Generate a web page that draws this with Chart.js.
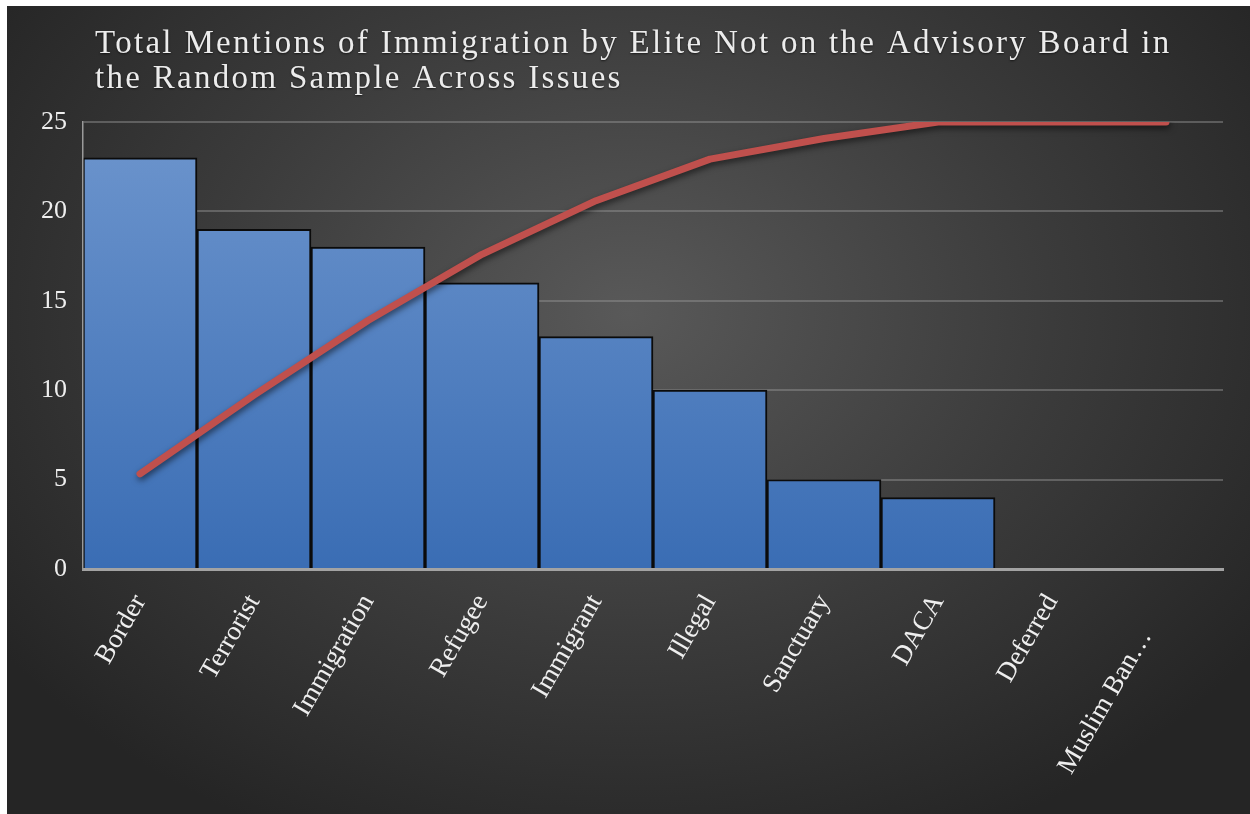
<!DOCTYPE html>
<html>
<head>
<meta charset="utf-8">
<script src="https://cdn.jsdelivr.net/npm/chart.js@4.4.1/dist/chart.umd.min.js"></script>
<style>
  html, body { margin: 0; padding: 0; background: #fff; }
  #wrap {
    position: absolute; left: 7px; top: 6px; width: 1243px; height: 808px;
    background: radial-gradient(ellipse 62% 72% at 50% 38%, #595959 0%, #3b3b3b 55%, #252525 100%);
  }
  #wrap canvas { display: block; }
</style>
</head>
<body>
<div id="wrap"><canvas id="paretoChart" width="1243" height="808"></canvas></div>
<script>
// issue categories and mention counts
const categories = ['Border', 'Terrorist', 'Immigration', 'Refugee', 'Immigrant', 'Illegal', 'Sanctuary', 'DACA', 'Deferred', 'Muslim Ban…'];
const mentions = [23, 19, 18, 16, 13, 10, 5, 4, 0, 0];
// running share of all mentions, in percent
const cumulativePct = [21.3, 38.9, 55.6, 70.4, 82.4, 91.7, 96.3, 100, 100, 100];
const titleLines = ['Total Mentions of Immigration by Elite Not on the Advisory Board in', 'the Random Sample Across Issues'];
const yMax = 25;
const yStep = 5;

const serif = "'Liberation Serif', 'Times New Roman', serif";

// title drawn by hand so it can be letter-spaced
const titlePlugin = {
    id: 'spacedTitle',
    afterDraw(chart) {
        const ctx = chart.ctx;
        ctx.save();
        ctx.font = '33px ' + serif;
        ctx.letterSpacing = '2.3px';
        ctx.fillStyle = '#ececec';
        ctx.textBaseline = 'alphabetic';
        ctx.shadowColor = 'rgba(0,0,0,0.6)';
        ctx.shadowBlur = 2;
        ctx.shadowOffsetY = 1;
        titleLines.forEach((line, i) => {
            ctx.fillText(line, 88, 47 + i * 35);
        });
        ctx.restore();
    }
};

// soft drop shadow under the cumulative line
const lineShadow = {
    id: 'lineShadow',
    beforeDatasetDraw(chart, args) {
        if (args.meta.type !== 'line') return;
        const ctx = chart.ctx;
        ctx.save();
        ctx.shadowColor = 'rgba(0,0,0,0.55)';
        ctx.shadowBlur = 6;
        ctx.shadowOffsetX = 1;
        ctx.shadowOffsetY = 3;
    },
    afterDatasetDraw(chart, args) {
        if (args.meta.type !== 'line') return;
        chart.ctx.restore();
    }
};

const ctx = document.getElementById('paretoChart').getContext('2d');

new Chart(ctx, {
    type: 'bar',
    data: {
        labels: categories,
        datasets: [
            {
                type: 'line',
                label: 'Cumulative %',
                data: cumulativePct,
                yAxisID: 'y1',
                borderColor: '#c0504d',
                borderWidth: 7,
                borderCapStyle: 'round',
                borderJoinStyle: 'round',
                pointRadius: 0,
                tension: 0,
                order: 0
            },
            {
                label: 'Mentions',
                data: mentions,
                yAxisID: 'y',
                backgroundColor: (c) => {
                    const area = c.chart.chartArea;
                    if (!area) return '#4a7ebf';
                    const g = c.chart.ctx.createLinearGradient(0, area.top, 0, area.bottom);
                    g.addColorStop(0, '#6d95cd');
                    g.addColorStop(1, '#3a6db4');
                    return g;
                },
                borderColor: '#0b0b0b',
                borderWidth: 2,
                borderSkipped: 'bottom',
                categoryPercentage: 1,
                barPercentage: 1,
                order: 1
            }
        ]
    },
    options: {
        responsive: false,
        animation: false,
        layout: { padding: { top: 116, right: 27, left: 0, bottom: 0 } },
        plugins: {
            legend: { display: false },
            title: { display: false },
            tooltip: { enabled: false }
        },
        scales: {
            x: {
                grid: { display: false },
                border: { display: true, color: '#a3a3a3', width: 3, z: 1 },
                ticks: {
                    color: '#eeeeee',
                    font: { family: serif, size: 27 },
                    minRotation: 60,
                    maxRotation: 60,
                    padding: 12,
                    autoSkip: false,
                    // the truncated last label sits a little lower along its slant
                    callback: (v, i) => i === categories.length - 1 ? categories[i] + '\u2003\u2002' : categories[i]
                },
                afterFit(scale) { scale.height = 245; }
            },
            y: {
                min: 0,
                max: yMax,
                ticks: {
                    stepSize: yStep,
                    color: '#eeeeee',
                    font: { family: serif, size: 26 },
                    padding: 16
                },
                grid: { color: 'rgba(150,150,150,0.45)', lineWidth: 2, drawTicks: false },
                border: { display: true, color: '#9a9a9a', width: 1.5, z: 1 },
                afterFit(scale) { scale.width = 76; }
            },
            y1: {
                display: false,
                min: 0,
                max: 100
            }
        }
    },
    plugins: [titlePlugin, lineShadow]
});
</script>
</body>
</html>
